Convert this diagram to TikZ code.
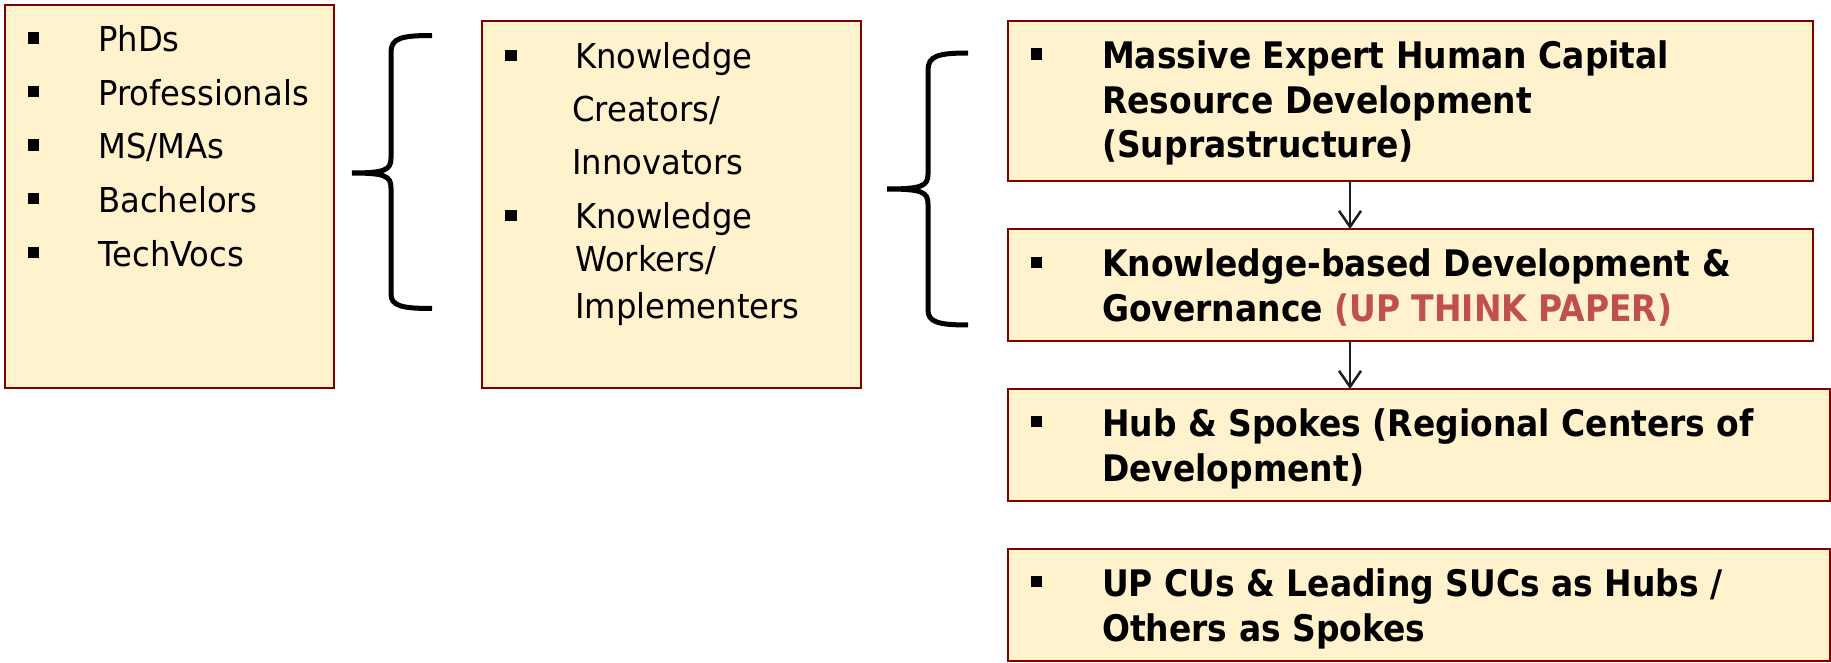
\documentclass[tikz,border=0pt]{standalone}
\usepackage{fontspec}
\newfontfamily\tahreg[FakeStretch=0.94]{DejaVu Sans}
\newfontfamily\tahbold[FakeStretch=0.90]{DejaVu Sans}
\usetikzlibrary{arrows.meta}
\definecolor{boxfill}{RGB}{255,242,204}
\definecolor{boxline}{RGB}{128,0,0}
\definecolor{redtext}{RGB}{192,80,77}
\definecolor{arrgray}{RGB}{30,30,30}
\tikzset{
  box/.style={draw=boxline, fill=boxfill, line width=2pt, rectangle, anchor=north west, inner sep=0pt, outer sep=0pt},
  reg/.style={anchor=base west, inner sep=0pt, font=\tahreg\fontsize{34.3}{40}\selectfont},
  bld/.style={anchor=base west, inner sep=0pt, font=\tahbold\bfseries\fontsize{36.6}{44}\selectfont},
  bul/.style={fill=black, rectangle, minimum size=11.5pt, inner sep=0pt},
  brace/.style={line width=5pt, line cap=butt},
  arr/.style={draw=arrgray, line width=2.5pt, -{Straight Barb[length=16pt,width=22pt,line width=2.5pt]}},
}
\begin{document}
\begin{tikzpicture}[x=1pt,y=-1pt]
\useasboundingbox (0,0) rectangle (1831,663);
% boxes
\node[box, minimum width=329pt, minimum height=383pt] (b1) at (5,5) {};
\node[box, minimum width=379pt, minimum height=367pt] (b2) at (482,21) {};
\node[box, minimum width=805pt, minimum height=160pt] (b3) at (1008,21) {};
\node[box, minimum width=805pt, minimum height=112pt] (b4) at (1008,229) {};
\node[box, minimum width=822pt, minimum height=112pt] (b5) at (1008,389) {};
\node[box, minimum width=822pt, minimum height=112pt] (b6) at (1008,549) {};
% box 1
\node[bul] (u1a) at (33.5,38) {};
\node[bul] (u1b) at (33.5,91.5) {};
\node[bul] (u1c) at (33.5,145) {};
\node[bul] (u1d) at (33.5,198.5) {};
\node[bul] (u1e) at (33.5,252.5) {};
\node[reg] (t1a) at (98,52) {PhDs};
\node[reg] (t1b) at (98,105.3) {Professionals};
\node[reg] (t1c) at (98,159) {MS/MAs};
\node[reg] (t1d) at (98,212.5) {Bachelors};
\node[reg] (t1e) at (98,266.5) {TechVocs};
% box 2
\node[bul] (u2a) at (511,55.5) {};
\node[bul] (u2b) at (511,215.5) {};
\node[reg] (t2a) at (575,68.3) {Knowledge};
\node[reg] (t2b) at (572,121.7) {Creators/};
\node[reg] (t2c) at (572,175) {Innovators};
\node[reg] (t2d) at (575,228.3) {Knowledge};
\node[reg] (t2e) at (575,271) {Workers/};
\node[reg] (t2f) at (575,318) {Implementers};
% right boxes
\node[bul] (u3) at (1036.5,54) {};
\node[bld] (t3a) at (1102,68.3) {Massive Expert Human Capital};
\node[bld] (t3b) at (1102,113.3) {Resource Development};
\node[bld] (t3c) at (1102,157.5) {(Suprastructure)};
\node[bul] (u4) at (1036.5,262.5) {};
\node[bld] (t4a) at (1102,276.7) {Knowledge-based Development \&};
\node[bld] (t4b) at (1102,321) {Governance \textcolor{redtext}{(UP THINK PAPER)}};
\node[bul] (u5) at (1036.5,421.5) {};
\node[bld] (t5a) at (1102,436) {Hub \& Spokes (Regional Centers of};
\node[bld] (t5b) at (1102,481) {Development)};
\node[bul] (u6) at (1036.5,581.5) {};
\node[bld] (t6a) at (1102,596) {UP CUs \& Leading SUCs as Hubs /};
\node[bld] (t6b) at (1102,641) {Others as Spokes};
% arrows
\coordinate (ax) at (1350,0);
\draw[arr] (b3.south -| ax) -- (b4.north -| ax);
\draw[arr] (b4.south -| ax) -- (b5.north -| ax);
% braces
\draw[brace] (432,35.5) .. controls (402,35.5) and (391,38) .. (391,52)
  -- (391,158) .. controls (391,170) and (385,173) .. (352,173)
  .. controls (385,173) and (391,176) .. (391,188)
  -- (391,294) .. controls (391,306) and (402,308.5) .. (432,308.5);
\draw[brace] (968,53) .. controls (938,53) and (928,56) .. (928,70)
  -- (928,174) .. controls (928,186) and (922,189) .. (887,189)
  .. controls (922,189) and (928,192) .. (928,204)
  -- (928,310) .. controls (928,322) and (938,325) .. (968,325);
\end{tikzpicture}
\end{document}
